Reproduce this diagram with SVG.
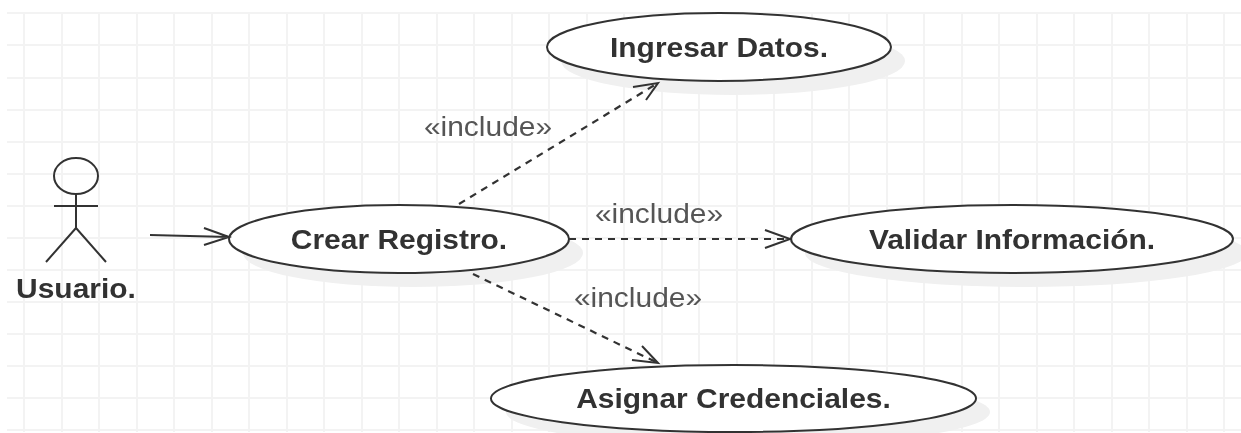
<svg xmlns="http://www.w3.org/2000/svg" width="1241" height="433" viewBox="0 0 1241 433">
<defs>
<style>
.grid{fill:none;stroke:#f3f3f3;stroke-width:2}
.shadow{fill:#f0f0f0;stroke:none}
.uc{fill:#fff;stroke:#333;stroke-width:2}
.line{fill:none;stroke:#333;stroke-width:2}
.dash{fill:none;stroke:#333;stroke-width:2.2;stroke-dasharray:7 6}
text{font-family:"Liberation Sans",Arial,sans-serif;font-size:28px;text-anchor:middle}
.b{font-weight:bold;fill:#333}
.inc{fill:#555}
</style>
<filter id="soft" x="0" y="0" width="100%" height="100%" filterUnits="userSpaceOnUse"><feGaussianBlur stdDeviation="0.6"/></filter>
</defs>
<rect width="1241" height="433" fill="#fff"/>
<g filter="url(#soft)">
<path id="grid" class="grid" d="M7 13H1241M7 45H1241M7 78H1241M7 110H1241M7 142H1241M7 174H1241M7 206H1241M7 238H1241M7 270H1241M7 302H1241M7 334H1241M7 366H1241M7 398H1241M7 430H1241M24 13V432M62 13V432M99 13V432M137 13V432M174 13V432M212 13V432M249 13V432M287 13V432M324 13V432M362 13V432M399 13V432M437 13V432M474 13V432M512 13V432M549 13V432M587 13V432M624 13V432M662 13V432M699 13V432M737 13V432M774 13V432M812 13V432M849 13V432M887 13V432M924 13V432M962 13V432M999 13V432M1037 13V432M1074 13V432M1112 13V432M1149 13V432M1187 13V432M1224 13V432"/>
<g id="usuario">
<ellipse class="line" cx="76" cy="176" rx="22" ry="18"/>
<path class="line" d="M76 194V228M54 206H98M76 228L46 262M76 228L106 262"/>
<text class="b" transform="translate(76 298) scale(1.07 1)">Usuario.</text>
</g>
<g id="crear">
<ellipse class="shadow" cx="413" cy="253" rx="170" ry="34"/>
<ellipse class="uc" cx="399" cy="239" rx="170" ry="34"/>
<text class="b" transform="translate(399 249) scale(1.07 1)">Crear Registro.</text>
</g>
<g id="ingresar">
<ellipse class="shadow" cx="733" cy="61" rx="172" ry="34"/>
<ellipse class="uc" cx="719" cy="47" rx="172" ry="34"/>
<text class="b" transform="translate(719 57) scale(1.07 1)">Ingresar Datos.</text>
</g>
<g id="validar">
<ellipse class="shadow" cx="1026" cy="253" rx="221" ry="34"/>
<ellipse class="uc" cx="1012" cy="239" rx="221" ry="34"/>
<text class="b" transform="translate(1012 249) scale(1.07 1)">Validar Información.</text>
</g>
<g id="asignar">
<ellipse class="shadow" cx="748" cy="412" rx="242" ry="34"/>
<ellipse class="uc" cx="733.5" cy="398.5" rx="242.5" ry="33.5"/>
<text class="b" transform="translate(733.5 408) scale(1.07 1)">Asignar Credenciales.</text>
</g>
<g id="connectors">
<path class="line" stroke-width="2.5" d="M150 235L229 237M204 228L229 237L204 245"/>
<path class="dash" d="M459 204L658 83"/>
<path class="line" d="M633 87L658 83L646 100"/>
<path class="dash" d="M569 239H790"/>
<path class="line" d="M765 230L790 239L765 248"/>
<path class="dash" d="M473 274L658 363"/>
<path class="line" d="M642 346L658 363L632 360"/>
<text class="inc" transform="translate(488 136) scale(1.07 1)">«include»</text>
<text class="inc" transform="translate(659 223) scale(1.07 1)">«include»</text>
<text class="inc" transform="translate(638 307) scale(1.07 1)">«include»</text>
</g>
</g>
</svg>
